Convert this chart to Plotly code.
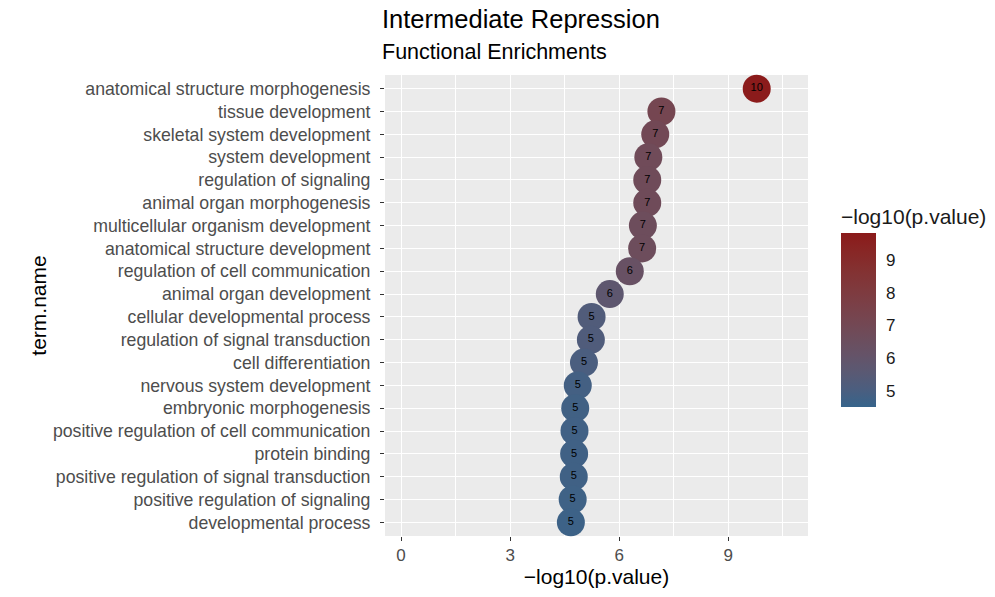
import numpy as np
import plotly.graph_objects as go

# Enrichment terms (top to bottom) and their -log10(p.value)
terms = [
    "anatomical structure morphogenesis",
    "tissue development",
    "skeletal system development",
    "system development",
    "regulation of signaling",
    "animal organ morphogenesis",
    "multicellular organism development",
    "anatomical structure development",
    "regulation of cell communication",
    "animal organ development",
    "cellular developmental process",
    "regulation of signal transduction",
    "cell differentiation",
    "nervous system development",
    "embryonic morphogenesis",
    "positive regulation of cell communication",
    "protein binding",
    "positive regulation of signal transduction",
    "positive regulation of signaling",
    "developmental process",
]
neg_log10_p = [
    9.78, 7.16, 6.99, 6.80, 6.77, 6.77, 6.65, 6.63, 6.29, 5.74,
    5.24, 5.22, 5.03, 4.86, 4.79, 4.77, 4.76, 4.75, 4.72, 4.67,
]
x_ticks = [0, 3, 6, 9]
cbar_ticks = [5, 6, 7, 8, 9]
cbar_limits = [4.5, 9.83]

LOW, HIGH = "#36648B", "#8B1A1A"
FONT = "Liberation Sans, Arial, sans-serif"


# --- gradient interpolated in CIE Lab, like ggplot's scale_colour_gradient ---
def _hex_to_rgb(h):
    h = h.lstrip("#")
    return np.array([int(h[i:i + 2], 16) for i in (0, 2, 4)]) / 255.0


def _srgb_to_lin(c):
    return np.where(c <= 0.04045, c / 12.92, ((c + 0.055) / 1.055) ** 2.4)


def _lin_to_srgb(c):
    c = np.clip(c, 0, 1)
    return np.where(c <= 0.0031308, 12.92 * c, 1.055 * c ** (1 / 2.4) - 0.055)


M = np.array([[0.4124, 0.3576, 0.1805],
              [0.2126, 0.7152, 0.0722],
              [0.0193, 0.1192, 0.9505]])
WHITE = np.array([0.95047, 1.0, 1.08883])


def _rgb_to_lab(rgb):
    xyz = M @ _srgb_to_lin(rgb) / WHITE
    f = np.where(xyz > 0.008856, np.cbrt(xyz), 7.787 * xyz + 16 / 116)
    return np.array([116 * f[1] - 16, 500 * (f[0] - f[1]), 200 * (f[1] - f[2])])


def _lab_to_rgb(lab):
    fy = (lab[0] + 16) / 116
    fx = fy + lab[1] / 500
    fz = fy - lab[2] / 200
    f = np.array([fx, fy, fz])
    xyz = np.where(f ** 3 > 0.008856, f ** 3, (f - 16 / 116) / 7.787) * WHITE
    return _lin_to_srgb(np.linalg.inv(M) @ xyz)


lab_lo, lab_hi = _rgb_to_lab(_hex_to_rgb(LOW)), _rgb_to_lab(_hex_to_rgb(HIGH))
colorscale = []
for t in np.linspace(0, 1, 11):
    r, g, b = (_lab_to_rgb(lab_lo + (lab_hi - lab_lo) * t) * 255).round().astype(int)
    colorscale.append([float(t), f"rgb({r},{g},{b})"])

labels = [f"{v:.0f}" for v in neg_log10_p]

fig = go.Figure(
    go.Scatter(
        x=neg_log10_p,
        y=terms,
        mode="markers+text",
        text=labels,
        textposition="middle center",
        textfont=dict(family=FONT, size=11, color="black"),
        marker=dict(
            size=28,
            color=neg_log10_p,
            colorscale=colorscale,
            cmin=cbar_limits[0],
            cmax=cbar_limits[1],
            line=dict(width=0),
            colorbar=dict(
                title=dict(text="\u2212log10(p.value)", side="top",
                           font=dict(size=21, color="#1A1A1A")),
                tickvals=cbar_ticks,
                ticks="outside",
                ticklen=7,
                tickcolor="white",
                tickfont=dict(size=17, color="#1A1A1A"),
                thickness=35,
                lenmode="pixels",
                len=202,
                x=1.078,
                xanchor="left",
                xpad=0,
                y=(536 - 407) / 461,
                yanchor="bottom",
                ypad=0,
                outlinewidth=0,
            ),
        ),
        cliponaxis=False,
        hoverinfo="x+y",
    )
)

fig.update_layout(
    width=995,
    height=597,
    margin=dict(l=385, r=187, t=75, b=61, autoexpand=False),
    paper_bgcolor="white",
    plot_bgcolor="#EBEBEB",
    font=dict(family=FONT, color="#4D4D4D"),
    showlegend=False,
    xaxis=dict(
        range=[-0.44, 11.19],
        tickvals=x_ticks,
        ticks="outside",
        ticklen=4,
        tickwidth=1.2,
        tickcolor="#333333",
        tickfont=dict(size=17, color="#4D4D4D"),
        showgrid=True,
        gridcolor="white",
        gridwidth=1.3,
        minor=dict(dtick=1.5, tick0=1.5, showgrid=True, gridcolor="white", gridwidth=0.6),
        zeroline=False,
        showline=False,
        title=dict(text="\u2212log10(p.value)", font=dict(size=21, color="black"), standoff=4),
    ),
    yaxis=dict(
        categoryorder="array",
        categoryarray=terms[::-1],
        range=[-0.6, len(terms) - 0.4],
        ticks="outside",
        ticklen=4,
        tickwidth=1.2,
        tickcolor="#333333",
        tickfont=dict(size=17.7, color="#4D4D4D"),
        ticklabelstandoff=6,
        showgrid=True,
        gridcolor="white",
        gridwidth=1.3,
        zeroline=False,
        showline=False,
        title=dict(text="term.name", font=dict(size=21, color="black"), standoff=0),
    ),
    annotations=[
        dict(text="Intermediate Repression", xref="paper", yref="paper",
             x=-0.012, y=1, yshift=56, xanchor="left", yanchor="middle",
             showarrow=False, font=dict(size=25.5, color="black")),
        dict(text="Functional Enrichments", xref="paper", yref="paper",
             x=-0.012, y=1, yshift=23, xanchor="left", yanchor="middle",
             showarrow=False, font=dict(size=21.5, color="black")),
    ],
)

fig.write_html("out.html")
